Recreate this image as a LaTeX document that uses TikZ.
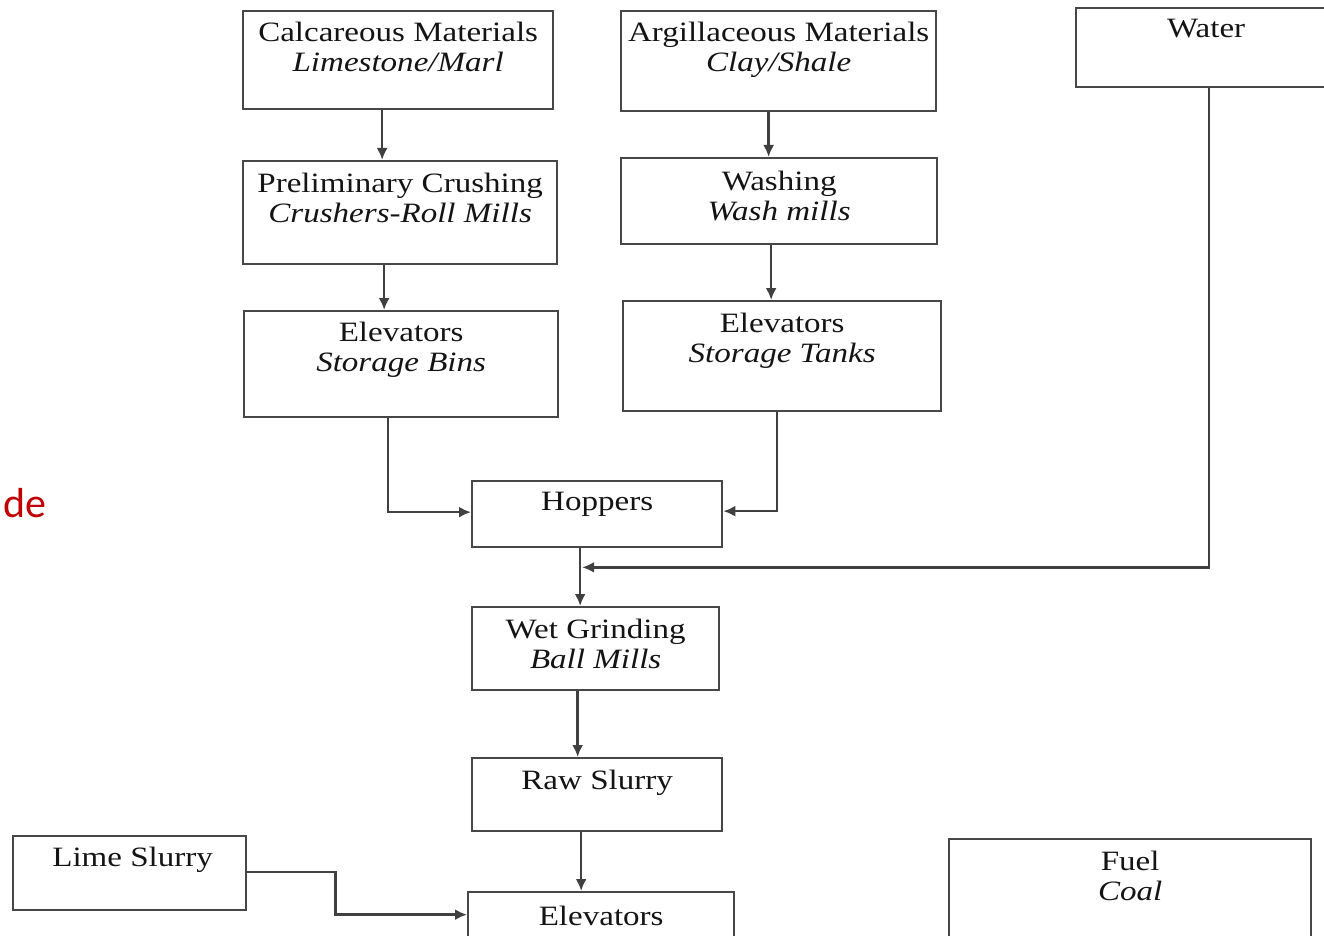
\documentclass[tikz,border=0pt]{standalone}
\usepackage{fontspec}
\setmainfont{Liberation Serif}[FakeStretch=1.18]
\newfontfamily\notefont{Carlito}
\usetikzlibrary{arrows.meta,positioning}
\newcommand\lnstrut{\rule{0pt}{21pt}}
\begin{document}
\begin{tikzpicture}[x=1pt,y=-1pt,
  box/.style={draw=black!72,line width=2.3pt,rectangle,anchor=north west,inner sep=0pt},
  txt/.style={anchor=north,inner sep=0pt,align=center,font=\fontsize{28}{30}\selectfont,text=black!92},
  arr/.style={draw=black!75,line width=2.6pt,-{Latex[length=12pt,width=11pt]}}]
\useasboundingbox (0,0) rectangle (1324,936);
\clip (0,0) rectangle (1324,936);
\fill[white] (0,0) rectangle (1324,936);

% process boxes
\node[box,minimum width=310,minimum height=98]  (calc)    at (242,10)  {};
\node[box,minimum width=315,minimum height=100] (argil)   at (620,10)  {};
\node[box,minimum width=270,minimum height=79]  (water)   at (1075,7)  {};
\node[box,minimum width=314,minimum height=103] (prelim)  at (242,160) {};
\node[box,minimum width=316,minimum height=86]  (wash)    at (620,157) {};
\node[box,minimum width=314,minimum height=106] (bins)    at (243,310) {};
\node[box,minimum width=318,minimum height=110] (tanks)   at (622,300) {};
\node[box,minimum width=250,minimum height=66]  (hoppers) at (471,480) {};
\node[box,minimum width=247,minimum height=83]  (wet)     at (471,606) {};
\node[box,minimum width=250,minimum height=73]  (raw)     at (471,757) {};
\node[box,minimum width=233,minimum height=74]  (lime)    at (12,835)  {};
\node[box,minimum width=266,minimum height=69]  (elev)    at (467,891) {};
\node[box,minimum width=362,minimum height=122] (fuel)    at (948,838) {};

% box texts
\node[txt] (calc-t)    at ([yshift=-10pt]calc.north)    {\lnstrut Calcareous Materials\\\textit{Limestone/Marl}};
\node[txt] (argil-t)   at ([yshift=-10pt]argil.north)   {\lnstrut Argillaceous Materials\\\textit{Clay/Shale}};
\node[txt] (water-t)   at ([xshift=-5pt,yshift=-9pt]water.north) {\lnstrut Water};
\node[txt] (prelim-t)  at ([yshift=-11pt]prelim.north)  {\lnstrut Preliminary Crushing\\\textit{Crushers-Roll Mills}};
\node[txt] (wash-t)    at ([yshift=-12pt]wash.north)    {\lnstrut Washing\\\textit{Wash mills}};
\node[txt] (bins-t)    at ([yshift=-10pt]bins.north)    {\lnstrut Elevators\\\textit{Storage Bins}};
\node[txt] (tanks-t)   at ([yshift=-11pt]tanks.north)   {\lnstrut Elevators\\\textit{Storage Tanks}};
\node[txt] (hoppers-t) at ([yshift=-9pt]hoppers.north)  {\lnstrut Hoppers};
\node[txt] (wet-t)     at ([yshift=-11pt]wet.north)     {\lnstrut Wet Grinding\\\textit{Ball Mills}};
\node[txt] (raw-t)     at ([yshift=-11pt]raw.north)     {\lnstrut Raw Slurry};
\node[txt] (lime-t)    at ([xshift=3pt,yshift=-10pt]lime.north) {\lnstrut Lime Slurry};
\node[txt] (elev-t)    at ([yshift=-13pt]elev.north)    {\lnstrut Elevators};
\node[txt] (fuel-t)    at ([yshift=-11pt]fuel.north)    {\lnstrut Fuel\\\textit{Coal}};

% margin note
\node[anchor=base west,inner sep=0pt,font=\notefont\fontsize{42}{46}\selectfont,text={rgb,255:red,192;green,0;blue,0}] (note) at (3,517) {de};

% flow connectors
\draw[arr] ([xshift=-16pt]calc.south) -- ([xshift=-16pt]calc.south |- prelim.north);
\draw[arr] ([xshift=-16pt]prelim.south) -- ([xshift=-16pt]prelim.south |- bins.north);
\draw[arr] ([xshift=-10pt]argil.south) -- ([xshift=-10pt]argil.south |- wash.north);
\draw[arr] ([xshift=-8pt]wash.south) -- ([xshift=-8pt]wash.south |- tanks.north);
\draw[arr] ([xshift=-13pt]bins.south) |- ([yshift=2pt]hoppers.west);
\draw[arr] ([xshift=-5pt]tanks.south) |- ([yshift=3pt]hoppers.east);
\draw[arr] ([xshift=-17pt]hoppers.south) -- ([xshift=-17pt]hoppers.south |- wet.north);
\path ([xshift=-17pt]hoppers.south) -- ([xshift=-17pt]hoppers.south |- wet.north) coordinate[pos=0.33] (join);
\draw[arr,shorten >=2pt] ([xshift=-2pt]water.south) |- (join);
\draw[arr] ([xshift=-18pt]wet.south) -- ([xshift=-18pt]wet.south |- raw.north);
\draw[arr] ([xshift=-16pt]raw.south) -- ([xshift=-16pt]raw.south |- elev.north);
\draw[arr] ([yshift=1pt]lime.east) -- ++(88,0) |- ([yshift=12pt]elev.west);
\end{tikzpicture}
\end{document}
